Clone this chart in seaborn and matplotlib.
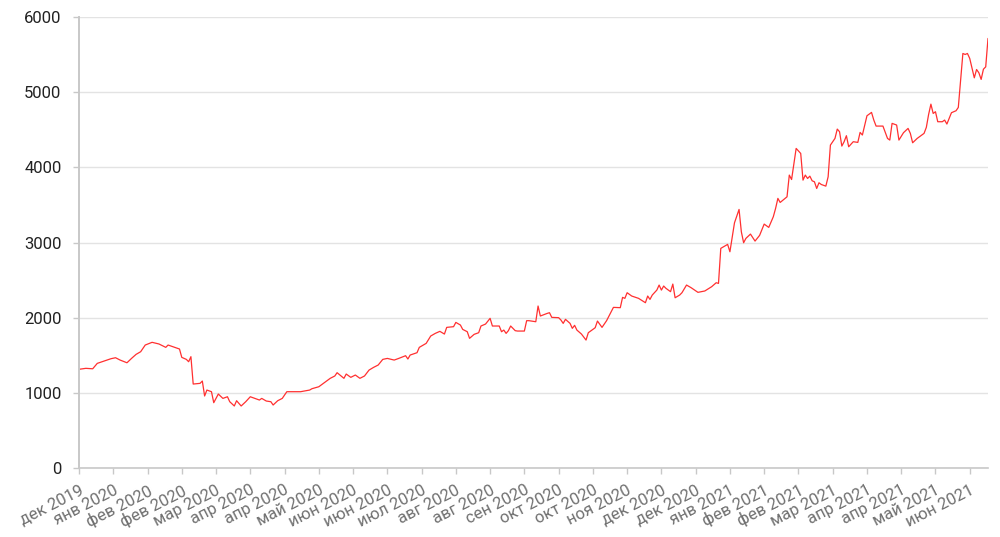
import matplotlib
matplotlib.use("Agg")
import matplotlib.pyplot as plt
import seaborn as sns
import pandas as pd

# trading-day index and values
days = [0, 3, 6, 8, 11, 14, 16, 18, 21, 23, 25, 27, 29, 32, 35, 38, 39, 42, 44, 45,
        47, 48, 49, 50, 53, 54, 55, 56, 58, 59, 61, 63, 65, 66, 68, 69, 71, 73, 75, 77,
        79, 80, 82, 84, 85, 87, 89, 91, 94, 97, 101, 102, 105, 108, 110, 112, 113, 116, 117, 119,
        121, 123, 125, 127, 129, 131, 133, 135, 138, 140, 143, 144, 145, 148, 149, 152, 154, 156, 158, 159,
        160, 161, 164, 165, 167, 168, 170, 171, 173, 175, 176, 177, 178, 180, 181, 184, 185, 186, 187, 188,
        189, 191, 192, 195, 196, 197, 200, 201, 202, 205, 206, 207, 210, 211, 212, 213, 215, 216, 217, 218,
        220, 222, 223, 226, 227, 229, 231, 234, 237, 238, 239, 240, 242, 245, 248, 249, 250, 251, 253, 254,
        255, 256, 257, 259, 260, 261, 263, 264, 266, 268, 271, 274, 277, 279, 280, 281, 284, 285, 287, 289,
        290, 291, 292, 294, 296, 298, 300, 302, 304, 305, 306, 307, 310, 311, 312, 314, 316, 317, 318, 319,
        320, 321, 322, 323, 324, 325, 327, 328, 329, 331, 332, 333, 334, 335, 336, 337, 339, 341, 342, 343,
        345, 347, 348, 349, 352, 354, 355, 356, 358, 359, 361, 363, 364, 365, 367, 370, 371, 372, 373, 374,
        375, 376, 378, 379, 380, 382, 384, 385, 386, 387, 388, 389, 390, 392, 393, 394, 395, 396, 397, 398]

values = [1313, 1326, 1320, 1392, 1423, 1454, 1467, 1436, 1400, 1458, 1512, 1547, 1636, 1672, 1650, 1605, 1636, 1605, 1583, 1472,
          1445, 1414, 1481, 1117, 1126, 1157, 958, 1037, 1015, 869, 984, 926, 948, 882, 825, 895, 825, 882, 948, 926,
          904, 926, 891, 882, 838, 895, 926, 1015, 1015, 1015, 1037, 1055, 1081, 1148, 1193, 1224, 1268, 1193, 1250, 1206,
          1237, 1193, 1224, 1303, 1339, 1370, 1445, 1458, 1436, 1458, 1494, 1450, 1503, 1534, 1605, 1658, 1756, 1791, 1818, 1800,
          1782, 1871, 1880, 1937, 1902, 1844, 1813, 1725, 1778, 1800, 1889, 1902, 1915, 1991, 1889, 1889, 1813, 1835, 1791, 1827,
          1889, 1827, 1822, 1822, 1960, 1960, 1946, 2155, 2022, 2057, 2066, 2004, 2000, 1969, 1924, 1978, 1924, 1858, 1898, 1835,
          1782, 1702, 1800, 1866, 1955, 1871, 1960, 2137, 2133, 2270, 2257, 2332, 2288, 2257, 2199, 2288, 2243, 2301, 2367, 2434,
          2367, 2421, 2390, 2346, 2447, 2265, 2301, 2332, 2434, 2399, 2337, 2355, 2412, 2465, 2456, 2922, 2975, 2877, 3262, 3440,
          3143, 2997, 3055, 3112, 3019, 3095, 3245, 3201, 3343, 3454, 3587, 3533, 3608, 3897, 3838, 4252, 4185, 3830, 3897, 3852,
          3883, 3821, 3808, 3719, 3795, 3772, 3750, 3874, 4296, 4385, 4509, 4474, 4283, 4341, 4421, 4274, 4341, 4332, 4465, 4430,
          4686, 4731, 4629, 4549, 4549, 4385, 4363, 4585, 4563, 4363, 4461, 4518, 4452, 4327, 4385, 4452, 4532, 4704, 4841, 4717,
          4740, 4607, 4607, 4629, 4576, 4727, 4753, 4797, 5160, 5515, 5502, 5515, 5449, 5191, 5302, 5258, 5170, 5306, 5337, 5715]

tick_labels = ["дек 2019", "янв 2020", "фев 2020", "фев 2020", "мар 2020", "апр 2020", "апр 2020",
               "май 2020", "июн 2020", "июн 2020", "июл 2020", "авг 2020", "авг 2020", "сен 2020",
               "окт 2020", "окт 2020", "ноя 2020", "дек 2020", "дек 2020", "янв 2021", "фев 2021",
               "фев 2021", "мар 2021", "апр 2021", "апр 2021", "май 2021", "июн 2021"]
tick_step = 15
y_ticks = [0, 1000, 2000, 3000, 4000, 5000, 6000]

sns.set_theme(style="white")
plt.rcParams['font.family'] = ['Roboto', 'DejaVu Sans']

df = pd.DataFrame({"day": days, "value": values})

fig = plt.figure(figsize=(10, 5.37), dpi=100)
ax = fig.add_axes([0.079, 0.1285, 0.909, 0.8398])
sns.lineplot(data=df, x="day", y="value", ax=ax, color="#ff3030", linewidth=0.9)

ax.set_xlim(0, days[-1])
ax.set_ylim(0, 6000)
ax.set_yticks(y_ticks)
ax.set_yticklabels([str(v) for v in y_ticks], fontsize=12, color="#222222")
xt = [i * tick_step for i in range(len(tick_labels))]
ax.set_xticks(xt)
ax.set_xticklabels(tick_labels, fontsize=12, color="#707070", rotation=27,
                   ha="right", va="top", rotation_mode="anchor")
ax.set_xlabel("")
ax.set_ylabel("")

ax.grid(axis="y", color="#e3e3e3", linewidth=1)
ax.grid(axis="x", visible=False)
ax.set_axisbelow(True)
for s in ["top", "right"]:
    ax.spines[s].set_visible(False)
ax.spines["left"].set_color("#c8c8c8")
ax.spines["left"].set_linewidth(1.4)
ax.spines["bottom"].set_color("#c8c8c8")
ax.spines["bottom"].set_linewidth(1.2)
ax.tick_params(axis="y", length=4.5, width=1, color="#c8c8c8", pad=8, left=True)
ax.tick_params(axis="x", length=4.5, width=1, color="#c8c8c8", pad=6, bottom=True)

fig.savefig("out.png", dpi=100, facecolor="white")
